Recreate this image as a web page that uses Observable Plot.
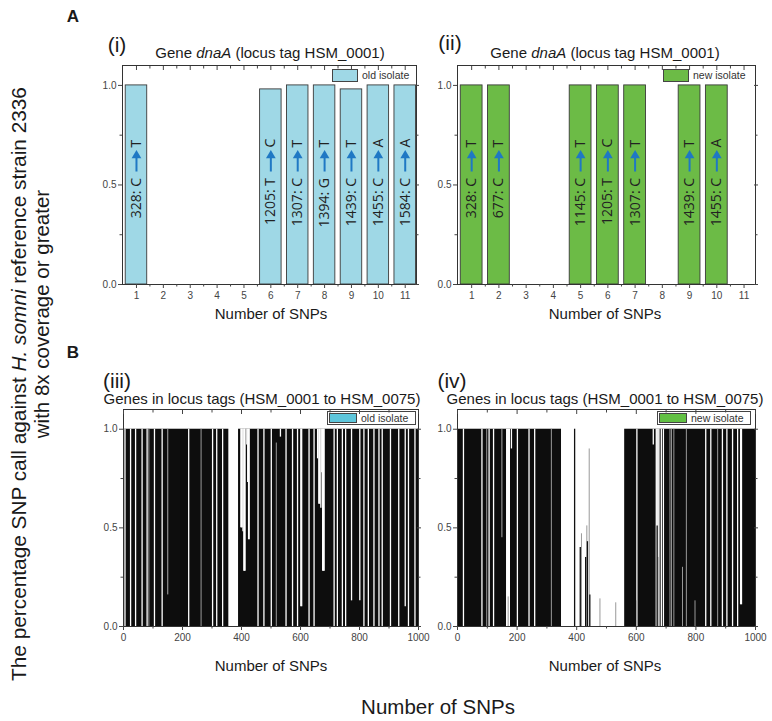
<!DOCTYPE html>
<html><head><meta charset="utf-8">
<script src="https://cdn.jsdelivr.net/npm/d3@7"></script>
<script src="https://cdn.jsdelivr.net/npm/@observablehq/plot@0.6"></script>
<style>
body{margin:0;background:#fff;}
#fig{position:relative;width:772px;height:721px;font-family:"Liberation Sans",Arial,sans-serif;overflow:hidden;background:#fff}
.t{position:absolute;white-space:nowrap;color:#1a1a1a;transform:translate(-50%,-50%);line-height:1}
.sw{position:absolute;box-sizing:border-box;border:1px solid #444}
.lg{position:absolute;white-space:nowrap;color:#333;font-size:10.5px;line-height:1}
.box{position:absolute;box-sizing:border-box;border:1px solid #444}
</style></head><body><div id="fig"></div>
<script>
// ---------- Panel A data ----------
const snpTicks = [1,2,3,4,5,6,7,8,9,10,11];
const oldX = [1,6,7,8,9,10,11];
const oldV = [1.0,0.98,1.0,1.0,0.98,1.0,1.0];
const oldPre = ["328: C","1205: T","1307: C","1394: G","1439: C","1455: C","1584: C"];
const oldSuf = ["T","C","T","T","T","A","A"];
const newX = [1,2,5,6,7,9,10];
const newV = [1.0,1.0,1.0,1.0,1.0,1.0,1.0];
const newPre = ["328: C","677: C","1145: C","1205: T","1307: C","1439: C","1455: C"];
const newSuf = ["T","T","T","C","T","T","A"];

// ---------- Panel B data ----------
// full-height runs of SNPs [start, end]
const oldBlocks = [[0,357],[390,1000]];
// SNPs inside runs whose value is below 1 : [snp, value]
const oldNotches = [[5,0],[24,0],[41,0],[63,0],[80,0],[105,0],[131,0],[221,0],[302,0],[316,0],[336,0],
  [398,0.5],[400,0.5],[402,0.5],[405,0.48],[408,0.28],[410,0.28],[412,0.28],[418,0.92],[421,0.73],[424,0.44],[426,0.44],
  [456,0],[476,0],[501,0],[532,0.96],[551,0],[573,0],[590,0],[601,0.1],[604,0.1],[629,0],[646,0],
  [658,0.85],[662,0.62],[665,0.62],[669,0.6],[672,0.78],[675,0.28],[678,0.28],[680,0.28],
  [714,0],[725,0],[742,0],[753,0],[773,0.13],[801,0.13],[815,0],[830,0],[849,0],[866,0],[877,0],[905,0],[933,0],[955,0.1],[966,0],[988,0]];
// SNPs drawn with a grey outline : [snp, value]
const oldGrey = [[86,1],[263,1],[518,0.93]];
const oldGreyNotch = [[150,0.16]];
const oldLone = [];

const newBlocks = [[0,349],[561,1000]];
const newNotches = [[20,0],[82,0],[106,0],[121,0],[165,0],[168,0],[171,0],[174,0],[181,0.9],[201,0],[240,0],[259,0],
  [602,0],[657,0.92],[667,0],[670,0],[673,0],[676,0],[684,0],[691,0],[833,0],[850,0],[889,0],[904,0],[923,0],[940,0],[950,0.11],[953,0.11]];
const newGrey = [[98,1],[170,0.15],[315,1],[416,0.47],[434,0.51],[442,0.9],[478,0.14],[531,0.12],
  [602,0.13],[673,0.35],[713,1],[718,1],[726,1],[755,0.3],[768,1],[797,0.13],[873,1]];
const newGreyNotch = [[149,0.45]];
const newLone = [[393,1],[412,0.4],[430,0.35],[436,0.43],[444,0.16],[670,0.51]];

const bTicks = [0,200,400,600,800,1000];
const bMinor = [100,300,500,700,900];

// ---------- helpers ----------
const fig = document.getElementById("fig");
function txt(html, cx, cy, css) {
  const d = document.createElement("div");
  d.className = "t"; d.innerHTML = html;
  d.style.left = cx + "px"; d.style.top = cy + "px";
  Object.assign(d.style, css || {});
  fig.append(d); return d;
}
function el(cls, l, t, w, h, css) {
  const d = document.createElement("div");
  d.className = cls; Object.assign(d.style, {left:l+"px", top:t+"px"}, w!=null?{width:w+"px"}:{}, h!=null?{height:h+"px"}:{}, css||{});
  fig.append(d); return d;
}

function panel(frame, xDomain, xTicks, xMinor, marks) {
  const [L,T,R,B] = frame;
  const ml=40, mr=14, mt=8, mb=26;
  const yMajor=[0,0.5,1], yMinor=[0.25,0.75];
  const empty = () => "";
  const svg = Plot.plot({
    width: R-L+ml+mr, height: B-T+mt+mb,
    marginLeft: ml, marginRight: mr, marginTop: mt, marginBottom: mb,
    style: {color:"#444", fontSize:"10px", fontFamily:"Liberation Sans, Arial, sans-serif", background:"transparent", overflow:"visible"},
    x: {domain: xDomain, label: null, axis: null},
    y: {domain: [0,1.1], label: null, axis: null},
    marks: [
      ...marks,
      Plot.frame({stroke:"#333", strokeWidth:1}),
      Plot.axisX({ticks:xTicks, tickSize:4, tickPadding:3, label:null, tickFormat: d=>String(d)}),
      Plot.axisX({ticks:xMinor, tickSize:2.5, tickFormat: empty, label:null}),
      Plot.axisX({anchor:"top", ticks:xTicks, tickSize:4, dy:4, tickFormat: empty, label:null}),
      Plot.axisX({anchor:"top", ticks:xMinor, tickSize:2.5, dy:2.5, tickFormat: empty, label:null}),
      Plot.axisY({ticks:yMajor, tickSize:4, tickPadding:2, tickFormat: d3.format(".1f"), label:null}),
      Plot.axisY({ticks:yMinor, tickSize:2.5, tickFormat: empty, label:null}),
      Plot.axisY({anchor:"right", ticks:yMajor, tickSize:4, dx:-2, tickFormat: empty, label:null}),
      Plot.axisY({anchor:"right", ticks:yMinor, tickSize:2.5, dx:-1, tickFormat: empty, label:null})
    ]
  });
  svg.style.position = "absolute";
  svg.style.left = (L-ml) + "px";
  svg.style.top = (T-mt) + "px";
  fig.append(svg);
}

function barMarks(xs, vs, pres, sufs, fill) {
  const data = xs.map((x,i) => ({x, v: vs[i], pre: pres[i], suf: sufs[i]}));
  const blue = "#1f78c4";
  const lab = {fontFamily:"Open Sans, DejaVu Sans, sans-serif", fontSize:14, fill:"#222", rotate:-90};
  return [
    Plot.rectY(data, {x1: d=>d.x-0.4, x2: d=>d.x+0.4, y: "v", fill, stroke:"#3a3a3a", strokeWidth:0.9}),
    Plot.text(data, {x:"x", y: () => 0.535, text:"pre", textAnchor:"end", ...lab}),
    Plot.ruleX(data, {x:"x", y1: () => 0.565, y2: () => 0.64, stroke: blue, strokeWidth:2}),
    Plot.dot(data, {x:"x", y: () => 0.648, symbol:"triangle", r:3.6, fill: blue, stroke:"none"}),
    Plot.text(data, {x:"x", y: () => 0.688, text:"suf", textAnchor:"start", ...lab})
  ];
}

function snpMarks(blocks, notches, grey, greyNotch, lone) {
  return [
    Plot.rectY(blocks, {x1: d=>d[0], x2: d=>d[1], y: () => 1, fill:"#0d0d0d"}),
    Plot.ruleX(notches, {x: d=>d[0], y1: d=>d[1], y2: () => 1, stroke:"#fff", strokeWidth:1.3}),
    Plot.ruleX(greyNotch, {x: d=>d[0], y1: d=>d[1], y2: () => 1, stroke:"#aaa", strokeWidth:1}),
    Plot.ruleX(grey, {x: d=>d[0], y1: () => 0, y2: d=>d[1], stroke:"#999", strokeWidth:1}),
    Plot.ruleX(lone, {x: d=>d[0], y1: () => 0, y2: d=>d[1], stroke:"#111", strokeWidth:1.3})
  ];
}

// ---------- panels ----------
const domA = [0.48, 11.42];
panel([122,65,416,284], domA, snpTicks, snpTicks.slice(0,-1).map(d=>d+0.5),
  barMarks(oldX, oldV, oldPre, oldSuf, "#9fd8e6"));
panel([456.7,65,754.7,284], domA, snpTicks, snpTicks.slice(0,-1).map(d=>d+0.5),
  barMarks(newX, newV, newPre, newSuf, "#6cbb46"));
panel([122.7,409,417.7,626], [0,1000], bTicks, bMinor,
  snpMarks(oldBlocks, oldNotches, oldGrey, oldGreyNotch, oldLone));
panel([456.7,409,754.7,626], [0,1000], bTicks, bMinor,
  snpMarks(newBlocks, newNotches, newGrey, newGreyNotch, newLone));

// ---------- texts ----------
const big = {fontSize:"17px", fontWeight:"bold"};
txt("A", 73, 16, big);
txt("B", 73, 352, big);
txt("(i)", 117, 44, {fontSize:"21px"});
txt("(ii)", 450, 42, {fontSize:"21px"});
txt("(iii)", 117, 380, {fontSize:"21px"});
txt("(iv)", 452, 380, {fontSize:"21px"});
const ttl = {fontSize:"15px"};
txt("Gene <i>dnaA</i> (locus tag HSM_0001)", 270, 52, ttl);
txt("Gene <i>dnaA</i> (locus tag HSM_0001)", 605, 52, ttl);
txt("Genes in locus tags (HSM_0001 to HSM_0075)", 262, 398, ttl);
txt("Genes in locus tags (HSM_0001 to HSM_0075)", 605, 398, ttl);
const axl = {fontSize:"15px"};
txt("Number of SNPs", 271, 313, axl);
txt("Number of SNPs", 605, 313, axl);
txt("Number of SNPs", 271, 665, axl);
txt("Number of SNPs", 605, 665, axl);
txt("Number of SNPs", 438, 707, {fontSize:"20.5px"});
txt("The percentage SNP call against <i>H. somni</i> reference strain 2336", 19, 384, {fontSize:"20.8px", transform:"translate(-50%,-50%) rotate(-90deg)"});
txt("with 8x coverage or greater", 42, 314, {fontSize:"20.5px", transform:"translate(-50%,-50%) rotate(-90deg)"});

// ---------- legends ----------
el("sw", 332, 69, 26, 13, {background:"#9fd8e6"});
el("lg", 362, 70, null, null).textContent = "old isolate";
el("sw", 663, 69, 26, 13, {background:"#6cbb46"});
el("lg", 693, 70, null, null).textContent = "new isolate";
el("box", 327, 411, 89, 14);
el("sw", 329, 413, 28, 10, {background:"#5ec6db"});
el("lg", 361, 413, null, null).textContent = "old isolate";
el("box", 657, 411, 94, 14);
el("sw", 659, 413, 28, 10, {background:"#62c044"});
el("lg", 691, 413, null, null).textContent = "new isolate";
</script></body></html>
